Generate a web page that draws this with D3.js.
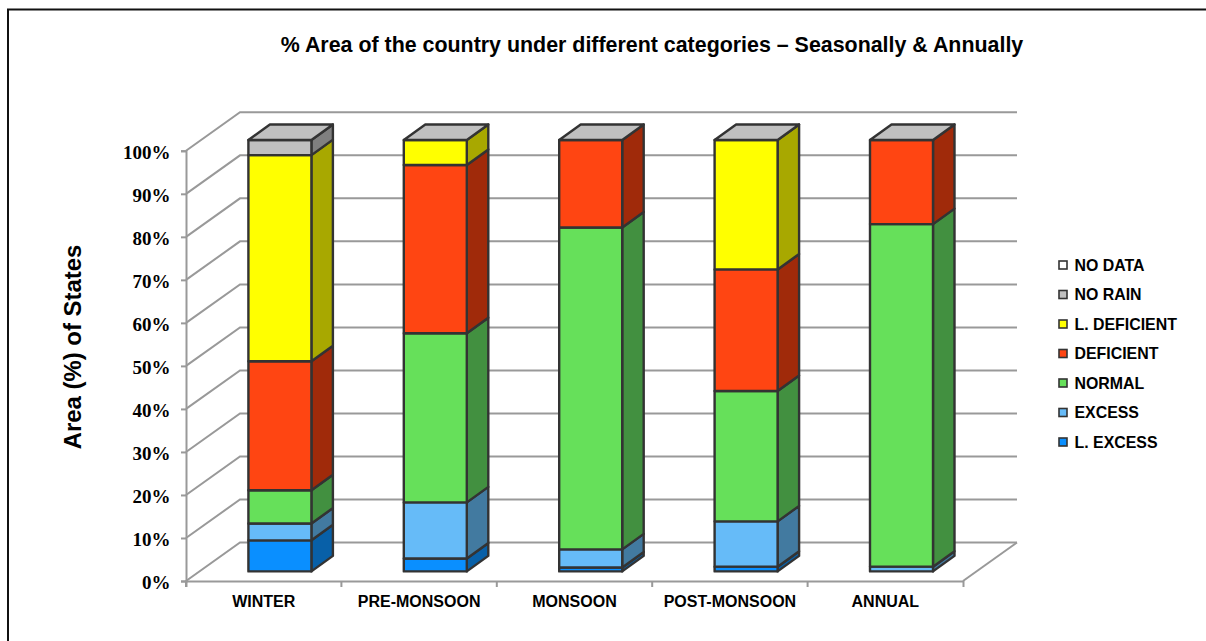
<!DOCTYPE html>
<html><head><meta charset="utf-8">
<script src="https://cdnjs.cloudflare.com/ajax/libs/d3/7.8.5/d3.min.js"></script>
<style>html,body{margin:0;padding:0;background:#fff;overflow:hidden}svg{display:block}</style>
</head><body><svg id="c" width="1206" height="641"></svg>
<script>
const seasons = ["WINTER","PRE-MONSOON","MONSOON","POST-MONSOON","ANNUAL"];
const categories = ["L. EXCESS","EXCESS","NORMAL","DEFICIENT","L. DEFICIENT","NO RAIN","NO DATA"];
const lExcess    = [7.2, 3.0, 0.9, 1.1, 0];
const excess     = [3.9, 13.0, 4.2, 10.5, 1.1];
const normal     = [7.7, 39.2, 74.6, 30.2, 79.4];
const deficient  = [29.9, 39.0, 20.3, 28.2, 19.5];
const lDeficient = [47.8, 5.8, 0, 30.0, 0];
const noRain     = [3.5, 0, 0, 0, 0];
const noData     = [0, 0, 0, 0, 0];
const yTicks = [0,10,20,30,40,50,60,70,80,90,100];
const frontColors = ["#0a8fff","#66bbf8","#66e05a","#ff4512","#ffff00","#c0c0c0","#ffffff"];
const sideColors  = ["#0860a8","#427aa0","#429040","#a02a0a","#a8a800","#808080","#a8a8a8"];

const svg = d3.select("#c");
const serif = "'Liberation Serif','Times New Roman',serif", sans = "'Liberation Sans',Arial,sans-serif";
const grid = "#999", edge = "#333";

svg.append("path").attr("d","M8,641V9.5H1206").attr("fill","none").attr("stroke","#111").attr("stroke-width",2);

svg.append("text").attr("x",652).attr("y",52).attr("text-anchor","middle")
  .attr("font-family",sans).attr("font-weight","bold").attr("font-size",21.4).attr("fill","#000")
  .text("% Area of the country under different categories – Seasonally & Annually");

// scales
const x = d3.scaleBand().domain(seasons).range([186,963]);
const y = d3.scaleLinear().domain([0,100]).range([581,150.8]);
const yBar = d3.scaleLinear().domain([0,100]).range([571.4,140]);
const wallDX = 54, wallDY = -38.5;
const barW = 63, barShift = 16.2, depDX = 21.5, depDY = -15.5;

const gG = svg.append("g").attr("fill","none").attr("stroke",grid).attr("stroke-width",2);
gG.selectAll("path.wall").data(yTicks).join("path").attr("class","wall").attr("d",t=>
  `M186,${y(t)}L${186+wallDX},${y(t)+wallDY}H${963+wallDX}`);
gG.append("path").attr("d",`M963,581L${963+wallDX},${581+wallDY}`);

// axes
const yAxis = d3.axisLeft(y).tickValues(yTicks).tickSize(5).tickFormat(d=>d+"%");
const gy = svg.append("g").attr("transform","translate(186,0)").call(yAxis);
gy.selectAll("path,line").attr("stroke",grid).attr("stroke-width",2);
gy.selectAll("text").attr("font-family",serif).attr("font-weight","bold").attr("font-size",19).attr("fill","#000").attr("x",-15.5).attr("y",1).attr("dy","0.34em");

const xAxis = d3.axisBottom(x).tickSize(6).tickSizeOuter(6);
const gx = svg.append("g").attr("transform","translate(0,581)").call(xAxis);
gx.selectAll("path").attr("stroke",grid).attr("stroke-width",2);
gx.selectAll(".tick line").attr("stroke",grid).attr("stroke-width",2)
  .attr("x1",-x.bandwidth()/2).attr("x2",-x.bandwidth()/2);
gx.selectAll("text").attr("font-family",sans).attr("font-weight","bold").attr("font-size",16).attr("fill","#000").attr("y",26).attr("dy",0)
  .attr("x",0);

svg.append("text").attr("transform","translate(80.5,347) rotate(-90)").attr("text-anchor","middle")
  .attr("font-family",sans).attr("font-weight","bold").attr("font-size",23.9).attr("fill","#000")
  .text("Area (%) of States");

// stacked 3-D bars
const rows = seasons.map((s,i)=>({season:s,"L. EXCESS":lExcess[i],"EXCESS":excess[i],"NORMAL":normal[i],
  "DEFICIENT":deficient[i],"L. DEFICIENT":lDeficient[i],"NO RAIN":noRain[i],"NO DATA":noData[i]}));
const stack = d3.stack().keys(categories)(rows);
const barX = s => x(s)+x.bandwidth()/2 + barShift - barW/2;

const bars = svg.append("g").attr("stroke",edge).attr("stroke-width",2.4).attr("stroke-linejoin","round");
stack.forEach((layer,k)=>{
  layer.forEach(seg=>{
    if(seg[1]-seg[0]<=0) return;
    const s = seg.data.season, x0 = barX(s), x1 = x0+barW, t = yBar(seg[1]), b = yBar(seg[0]);
    bars.append("path").attr("fill",sideColors[k])
      .attr("d",`M${x1},${b}L${x1+depDX},${b+depDY}V${t+depDY}L${x1},${t}Z`);
    bars.append("rect").attr("fill",frontColors[k]).attr("x",x0).attr("y",t).attr("width",barW).attr("height",b-t);
  });
});
seasons.forEach(s=>{
  const x0=barX(s), x1=x0+barW, t=yBar(100);
  bars.append("path").attr("fill","#c0c0c0")
    .attr("d",`M${x0},${t}L${x0+depDX},${t+depDY}H${x1+depDX}L${x1},${t}Z`);
});

// legend
const legY = d3.scalePoint().domain(categories.slice().reverse()).range([265,442]);
const leg = svg.append("g").selectAll("g").data(categories).join("g")
  .attr("transform",d=>`translate(1059,${legY(d)})`);
leg.append("rect").attr("x",0).attr("y",-4).attr("width",8).attr("height",8)
  .attr("fill",(d,i)=>frontColors[i]).attr("stroke",edge).attr("stroke-width",1.6);
leg.append("text").attr("x",15.5).attr("y",5.5).attr("font-family",sans).attr("font-weight","bold")
  .attr("font-size",15.9).attr("fill","#000").text(d=>d);
</script></body></html>
